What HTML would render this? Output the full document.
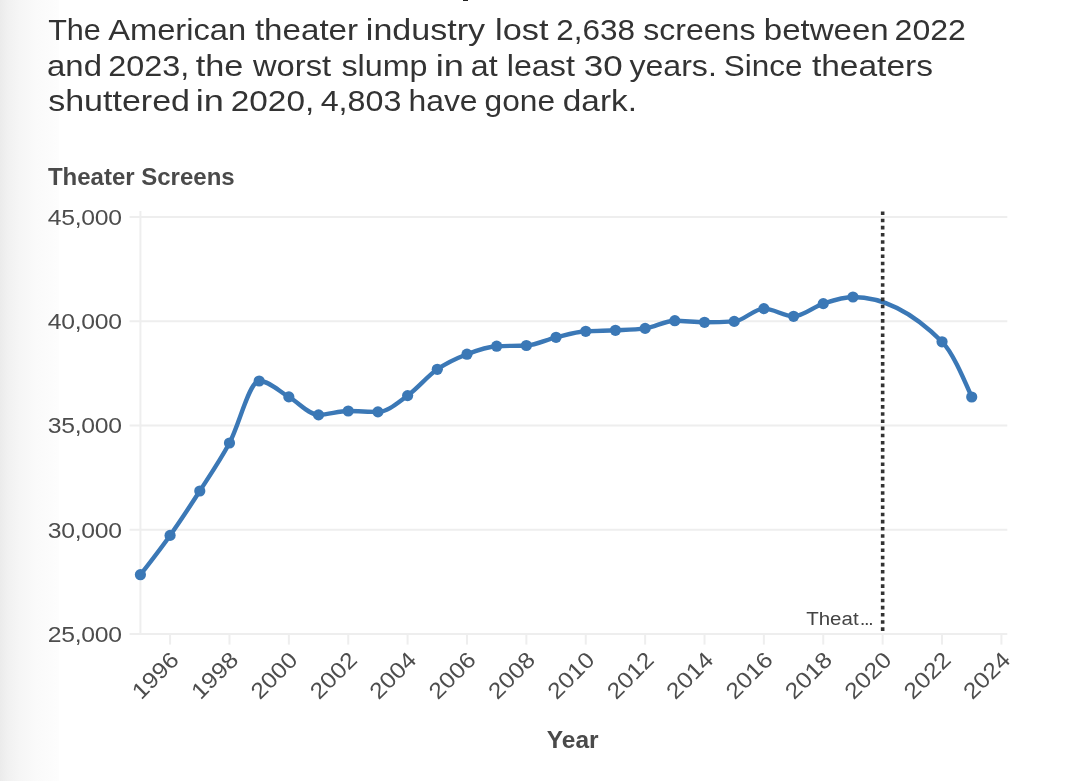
<!DOCTYPE html>
<html lang="en"><head><meta charset="utf-8"><title>Theater Screens</title>
<style>
html,body{margin:0;padding:0;}
body{width:1080px;height:781px;overflow:hidden;position:relative;background:#fff;font-family:"Liberation Sans",sans-serif;}
.shade{position:absolute;left:0;top:0;width:59px;height:781px;background:linear-gradient(to right,#ebebeb 0,#f1f1f1 8px,#f6f6f6 20px,#fafafa 36px,#fdfdfd 59px);}
.desc{position:absolute;left:463.2px;top:0;width:5.3px;height:1.3px;background:#222;}
svg text{font-family:"Liberation Sans",sans-serif;}
</style></head><body>
<div class="shade"></div>
<div class="desc"></div>
<svg width="1080" height="781" viewBox="0 0 1080 781" style="position:absolute;left:0;top:0">
<line x1="129.6" x2="1007.3" y1="217.10" y2="217.10" stroke="#eeeeee" stroke-width="2"/>
<line x1="129.6" x2="1007.3" y1="321.32" y2="321.32" stroke="#eeeeee" stroke-width="2"/>
<line x1="129.6" x2="1007.3" y1="425.55" y2="425.55" stroke="#eeeeee" stroke-width="2"/>
<line x1="129.6" x2="1007.3" y1="529.77" y2="529.77" stroke="#eeeeee" stroke-width="2"/>
<line x1="129.6" x2="1007.3" y1="634.00" y2="634.00" stroke="#eeeeee" stroke-width="2"/>
<line x1="140.4" x2="140.4" y1="211" y2="634" stroke="#eeeeee" stroke-width="2"/>
<line x1="170.09" x2="170.09" y1="634" y2="644.6" stroke="#eeeeee" stroke-width="2"/>
<line x1="229.47" x2="229.47" y1="634" y2="644.6" stroke="#eeeeee" stroke-width="2"/>
<line x1="288.85" x2="288.85" y1="634" y2="644.6" stroke="#eeeeee" stroke-width="2"/>
<line x1="348.23" x2="348.23" y1="634" y2="644.6" stroke="#eeeeee" stroke-width="2"/>
<line x1="407.61" x2="407.61" y1="634" y2="644.6" stroke="#eeeeee" stroke-width="2"/>
<line x1="466.99" x2="466.99" y1="634" y2="644.6" stroke="#eeeeee" stroke-width="2"/>
<line x1="526.37" x2="526.37" y1="634" y2="644.6" stroke="#eeeeee" stroke-width="2"/>
<line x1="585.75" x2="585.75" y1="634" y2="644.6" stroke="#eeeeee" stroke-width="2"/>
<line x1="645.13" x2="645.13" y1="634" y2="644.6" stroke="#eeeeee" stroke-width="2"/>
<line x1="704.51" x2="704.51" y1="634" y2="644.6" stroke="#eeeeee" stroke-width="2"/>
<line x1="763.89" x2="763.89" y1="634" y2="644.6" stroke="#eeeeee" stroke-width="2"/>
<line x1="823.27" x2="823.27" y1="634" y2="644.6" stroke="#eeeeee" stroke-width="2"/>
<line x1="882.65" x2="882.65" y1="634" y2="644.6" stroke="#eeeeee" stroke-width="2"/>
<line x1="942.03" x2="942.03" y1="634" y2="644.6" stroke="#eeeeee" stroke-width="2"/>
<line x1="1001.41" x2="1001.41" y1="634" y2="644.6" stroke="#eeeeee" stroke-width="2"/>
<text transform="translate(47.8,225.00) scale(1.1,1)" font-size="22.5" fill="#4d4d4d" letter-spacing="-0.25">45,000</text>
<text transform="translate(47.8,329.22) scale(1.1,1)" font-size="22.5" fill="#4d4d4d" letter-spacing="-0.25">40,000</text>
<text transform="translate(47.8,433.45) scale(1.1,1)" font-size="22.5" fill="#4d4d4d" letter-spacing="-0.25">35,000</text>
<text transform="translate(47.8,537.67) scale(1.1,1)" font-size="22.5" fill="#4d4d4d" letter-spacing="-0.25">30,000</text>
<text transform="translate(47.8,641.90) scale(1.1,1)" font-size="22.5" fill="#4d4d4d" letter-spacing="-0.25">25,000</text>
<text transform="translate(180.39,661.20) rotate(-45) scale(1.1,1)" text-anchor="end" font-size="22.5" fill="#4d4d4d" letter-spacing="0.1">1996</text>
<text transform="translate(239.77,661.20) rotate(-45) scale(1.1,1)" text-anchor="end" font-size="22.5" fill="#4d4d4d" letter-spacing="0.1">1998</text>
<text transform="translate(299.15,661.20) rotate(-45) scale(1.1,1)" text-anchor="end" font-size="22.5" fill="#4d4d4d" letter-spacing="0.1">2000</text>
<text transform="translate(358.53,661.20) rotate(-45) scale(1.1,1)" text-anchor="end" font-size="22.5" fill="#4d4d4d" letter-spacing="0.1">2002</text>
<text transform="translate(417.91,661.20) rotate(-45) scale(1.1,1)" text-anchor="end" font-size="22.5" fill="#4d4d4d" letter-spacing="0.1">2004</text>
<text transform="translate(477.29,661.20) rotate(-45) scale(1.1,1)" text-anchor="end" font-size="22.5" fill="#4d4d4d" letter-spacing="0.1">2006</text>
<text transform="translate(536.67,661.20) rotate(-45) scale(1.1,1)" text-anchor="end" font-size="22.5" fill="#4d4d4d" letter-spacing="0.1">2008</text>
<text transform="translate(596.05,661.20) rotate(-45) scale(1.1,1)" text-anchor="end" font-size="22.5" fill="#4d4d4d" letter-spacing="0.1">2010</text>
<text transform="translate(655.43,661.20) rotate(-45) scale(1.1,1)" text-anchor="end" font-size="22.5" fill="#4d4d4d" letter-spacing="0.1">2012</text>
<text transform="translate(714.81,661.20) rotate(-45) scale(1.1,1)" text-anchor="end" font-size="22.5" fill="#4d4d4d" letter-spacing="0.1">2014</text>
<text transform="translate(774.19,661.20) rotate(-45) scale(1.1,1)" text-anchor="end" font-size="22.5" fill="#4d4d4d" letter-spacing="0.1">2016</text>
<text transform="translate(833.57,661.20) rotate(-45) scale(1.1,1)" text-anchor="end" font-size="22.5" fill="#4d4d4d" letter-spacing="0.1">2018</text>
<text transform="translate(892.95,661.20) rotate(-45) scale(1.1,1)" text-anchor="end" font-size="22.5" fill="#4d4d4d" letter-spacing="0.1">2020</text>
<text transform="translate(952.33,661.20) rotate(-45) scale(1.1,1)" text-anchor="end" font-size="22.5" fill="#4d4d4d" letter-spacing="0.1">2022</text>
<text transform="translate(1011.71,661.20) rotate(-45) scale(1.1,1)" text-anchor="end" font-size="22.5" fill="#4d4d4d" letter-spacing="0.1">2024</text>
<text transform="translate(806.2,625) scale(1.09,1)" font-size="18.8" fill="#444">Theat<tspan font-size="12" font-weight="bold" dx="1.6">…</tspan></text>
<path d="M140.40,574.70C150.30,562.02,160.19,549.35,170.09,535.40C179.99,521.45,189.88,506.40,199.78,491.00C209.68,475.60,219.57,461.33,229.47,443.00C239.37,424.67,249.26,381.00,259.16,381.00C269.06,381.00,278.95,391.25,288.85,396.90C298.75,402.55,308.64,414.90,318.54,414.90C328.44,414.90,338.33,411.00,348.23,411.00C358.13,411.00,368.02,411.90,377.92,411.90C387.82,411.90,397.71,402.70,407.61,395.60C417.51,388.50,427.40,376.20,437.30,369.30C447.20,362.40,457.09,358.05,466.99,354.20C476.89,350.35,486.78,346.67,496.68,346.20C506.58,345.73,516.47,345.97,526.37,345.50C536.27,345.03,546.16,339.67,556.06,337.30C565.96,334.93,575.85,331.97,585.75,331.30C595.65,330.63,605.54,330.78,615.44,330.30C625.34,329.82,635.23,329.67,645.13,328.40C655.03,327.13,664.92,320.70,674.82,320.70C684.72,320.70,694.61,322.30,704.51,322.30C714.41,322.30,724.30,322.00,734.20,321.40C744.10,320.80,753.99,308.60,763.89,308.60C773.79,308.60,783.68,316.30,793.58,316.30C803.48,316.30,813.37,306.82,823.27,303.60C833.17,300.38,843.06,297.00,852.96,297.00C882.65,297.00,912.34,311.93,942.03,341.80C951.93,351.76,961.82,374.38,971.72,397.00" fill="none" stroke="#3b78b6" stroke-width="4.4" stroke-linejoin="round" stroke-linecap="round"/>
<circle cx="140.40" cy="574.70" r="5.6" fill="#3b78b6"/>
<circle cx="170.09" cy="535.40" r="5.6" fill="#3b78b6"/>
<circle cx="199.78" cy="491.00" r="5.6" fill="#3b78b6"/>
<circle cx="229.47" cy="443.00" r="5.6" fill="#3b78b6"/>
<circle cx="259.16" cy="381.00" r="5.6" fill="#3b78b6"/>
<circle cx="288.85" cy="396.90" r="5.6" fill="#3b78b6"/>
<circle cx="318.54" cy="414.90" r="5.6" fill="#3b78b6"/>
<circle cx="348.23" cy="411.00" r="5.6" fill="#3b78b6"/>
<circle cx="377.92" cy="411.90" r="5.6" fill="#3b78b6"/>
<circle cx="407.61" cy="395.60" r="5.6" fill="#3b78b6"/>
<circle cx="437.30" cy="369.30" r="5.6" fill="#3b78b6"/>
<circle cx="466.99" cy="354.20" r="5.6" fill="#3b78b6"/>
<circle cx="496.68" cy="346.20" r="5.6" fill="#3b78b6"/>
<circle cx="526.37" cy="345.50" r="5.6" fill="#3b78b6"/>
<circle cx="556.06" cy="337.30" r="5.6" fill="#3b78b6"/>
<circle cx="585.75" cy="331.30" r="5.6" fill="#3b78b6"/>
<circle cx="615.44" cy="330.30" r="5.6" fill="#3b78b6"/>
<circle cx="645.13" cy="328.40" r="5.6" fill="#3b78b6"/>
<circle cx="674.82" cy="320.70" r="5.6" fill="#3b78b6"/>
<circle cx="704.51" cy="322.30" r="5.6" fill="#3b78b6"/>
<circle cx="734.20" cy="321.40" r="5.6" fill="#3b78b6"/>
<circle cx="763.89" cy="308.60" r="5.6" fill="#3b78b6"/>
<circle cx="793.58" cy="316.30" r="5.6" fill="#3b78b6"/>
<circle cx="823.27" cy="303.60" r="5.6" fill="#3b78b6"/>
<circle cx="852.96" cy="297.00" r="5.6" fill="#3b78b6"/>
<circle cx="942.03" cy="341.80" r="5.6" fill="#3b78b6"/>
<circle cx="971.72" cy="397.00" r="5.6" fill="#3b78b6"/>
<line x1="882.66" x2="882.66" y1="211.5" y2="632" stroke="#333" stroke-width="3.6" stroke-dasharray="3.585 3.585"/>
<text y="39.8" font-size="30" fill="#333"><tspan x="48.15" textLength="52.65" lengthAdjust="spacingAndGlyphs">The</tspan> <tspan x="108.15" textLength="138.04" lengthAdjust="spacingAndGlyphs">American</tspan> <tspan x="254.90" textLength="103.19" lengthAdjust="spacingAndGlyphs">theater</tspan> <tspan x="365.88" textLength="119.22" lengthAdjust="spacingAndGlyphs">industry</tspan> <tspan x="495.11" textLength="53.48" lengthAdjust="spacingAndGlyphs">lost</tspan> <tspan x="556.35" textLength="78.72" lengthAdjust="spacingAndGlyphs">2,638</tspan> <tspan x="643.15" textLength="112.27" lengthAdjust="spacingAndGlyphs">screens</tspan> <tspan x="763.80" textLength="124.91" lengthAdjust="spacingAndGlyphs">between</tspan> <tspan x="894.58" textLength="71.25" lengthAdjust="spacingAndGlyphs">2022</tspan></text>
<text y="75.6" font-size="30" fill="#333"><tspan x="47.05" textLength="54.89" lengthAdjust="spacingAndGlyphs">and</tspan> <tspan x="108.32" textLength="81.05" lengthAdjust="spacingAndGlyphs">2023,</tspan> <tspan x="195.65" textLength="47.73" lengthAdjust="spacingAndGlyphs">the</tspan> <tspan x="252.99" textLength="78.13" lengthAdjust="spacingAndGlyphs">worst</tspan> <tspan x="341.40" textLength="86.19" lengthAdjust="spacingAndGlyphs">slump</tspan> <tspan x="435.74" textLength="28.14" lengthAdjust="spacingAndGlyphs">in</tspan> <tspan x="470.83" textLength="26.81" lengthAdjust="spacingAndGlyphs">at</tspan> <tspan x="506.75" textLength="68.14" lengthAdjust="spacingAndGlyphs">least</tspan> <tspan x="583.73" textLength="38.91" lengthAdjust="spacingAndGlyphs">30</tspan> <tspan x="629.40" textLength="87.45" lengthAdjust="spacingAndGlyphs">years.</tspan> <tspan x="723.85" textLength="78.72" lengthAdjust="spacingAndGlyphs">Since</tspan> <tspan x="811.90" textLength="121.07" lengthAdjust="spacingAndGlyphs">theaters</tspan></text>
<text y="111.4" font-size="30" fill="#333"><tspan x="48.15" textLength="141.86" lengthAdjust="spacingAndGlyphs">shuttered</tspan> <tspan x="195.74" textLength="28.14" lengthAdjust="spacingAndGlyphs">in</tspan> <tspan x="230.79" textLength="83.41" lengthAdjust="spacingAndGlyphs">2020,</tspan> <tspan x="320.65" textLength="80.69" lengthAdjust="spacingAndGlyphs">4,803</tspan> <tspan x="408.53" textLength="69.05" lengthAdjust="spacingAndGlyphs">have</tspan> <tspan x="484.59" textLength="70.48" lengthAdjust="spacingAndGlyphs">gone</tspan> <tspan x="562.79" textLength="74.16" lengthAdjust="spacingAndGlyphs">dark.</tspan></text>
<text x="47.9" y="184.5" font-size="24" font-weight="bold" fill="#4a4a4a">Theater Screens</text>
<text x="572.7" y="748.3" text-anchor="middle" font-size="24.5" font-weight="bold" fill="#4a4a4a">Year</text>
</svg>
</body></html>
